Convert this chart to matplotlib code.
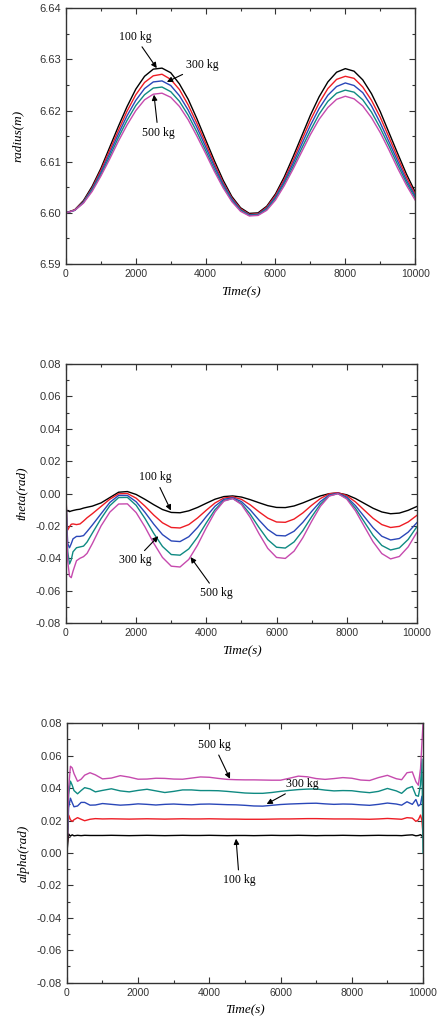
import numpy as np
import matplotlib
matplotlib.use('Agg')
from matplotlib import pyplot as plt
from matplotlib.ticker import MultipleLocator, FormatStrFormatter

plt.rcParams['font.family'] = ['Liberation Sans', 'DejaVu Sans']
plt.rcParams['axes.unicode_minus'] = False

# CONSTANTS
masses = ['100 kg', '200 kg', '300 kg', '400 kg', '500 kg']
colors = ['#000000', '#ee1c24', '#2a47b8', '#0f8a82', '#c64aae']

# radius (m), sampled every 250 s
t_radius = np.arange(0, 10001, 250)
radius_100 = [6.6000, 6.6006, 6.6024, 6.6052, 6.6087, 6.6128, 6.6169, 6.6208, 6.6242, 6.6267,
              6.6281, 6.6283, 6.6274, 6.6252, 6.6222, 6.6184, 6.6143, 6.6102, 6.6064, 6.6032,
              6.6010, 6.5999, 6.6000, 6.6013, 6.6037, 6.6070, 6.6109, 6.6150, 6.6191, 6.6227,
              6.6256, 6.6275, 6.6282, 6.6277, 6.6260, 6.6233, 6.6198, 6.6157, 6.6116, 6.6076, 6.6041]
radius_200 = [6.6000, 6.6006, 6.6022, 6.6049, 6.6083, 6.6122, 6.6161, 6.6199, 6.6231, 6.6255,
              6.6268, 6.6271, 6.6261, 6.6241, 6.6211, 6.6175, 6.6136, 6.6096, 6.6059, 6.6029,
              6.6008, 6.5997, 6.5998, 6.6011, 6.6034, 6.6065, 6.6102, 6.6142, 6.6181, 6.6215,
              6.6243, 6.6261, 6.6267, 6.6263, 6.6246, 6.6220, 6.6187, 6.6148, 6.6108, 6.6070, 6.6036]
radius_300 = [6.6000, 6.6005, 6.6021, 6.6047, 6.6079, 6.6116, 6.6154, 6.6190, 6.6220, 6.6243,
              6.6256, 6.6258, 6.6249, 6.6229, 6.6201, 6.6167, 6.6129, 6.6091, 6.6056, 6.6027,
              6.6006, 6.5996, 6.5997, 6.6009, 6.6031, 6.6061, 6.6096, 6.6134, 6.6171, 6.6204,
              6.6230, 6.6247, 6.6254, 6.6249, 6.6235, 6.6209, 6.6176, 6.6139, 6.6101, 6.6064, 6.6033]
radius_400 = [6.6000, 6.6005, 6.6020, 6.6045, 6.6075, 6.6110, 6.6147, 6.6181, 6.6210, 6.6231,
              6.6244, 6.6246, 6.6237, 6.6218, 6.6191, 6.6158, 6.6122, 6.6085, 6.6052, 6.6024,
              6.6005, 6.5995, 6.5996, 6.6007, 6.6028, 6.6057, 6.6090, 6.6126, 6.6161, 6.6193,
              6.6218, 6.6234, 6.6240, 6.6236, 6.6221, 6.6197, 6.6166, 6.6131, 6.6094, 6.6059, 6.6029]
radius_500 = [6.6000, 6.6005, 6.6019, 6.6042, 6.6072, 6.6105, 6.6140, 6.6172, 6.6200, 6.6221,
              6.6232, 6.6234, 6.6226, 6.6208, 6.6182, 6.6150, 6.6116, 6.6081, 6.6049, 6.6022,
              6.6003, 6.5994, 6.5995, 6.6005, 6.6025, 6.6053, 6.6085, 6.6119, 6.6153, 6.6183,
              6.6206, 6.6222, 6.6228, 6.6223, 6.6209, 6.6186, 6.6157, 6.6123, 6.6087, 6.6054, 6.6025]

# theta (rad)
t_theta = [0, 25, 50, 100, 150, 200, 300, 400, 500, 600, 750] + list(range(1000, 10001, 250))
theta_100 = [-0.0100, -0.0110, -0.0105, -0.0112, -0.0108, -0.0105, -0.0100, -0.0097, -0.0090, -0.0085, -0.0078,
             -0.0058, -0.0025, 0.0008, 0.0012, -0.0006, -0.0036, -0.0069, -0.0099, -0.0117,
             -0.0119, -0.0107, -0.0086, -0.0060, -0.0035, -0.0019, -0.0015, -0.0022, -0.0038,
             -0.0057, -0.0075, -0.0086, -0.0087, -0.0077, -0.0058, -0.0036, -0.0015, -0.0001,
             0.0003, -0.0008, -0.0031, -0.0061, -0.0091, -0.0114, -0.0125, -0.0121, -0.0104, -0.0080]
theta_200 = [0.0000, -0.0180, -0.0225, -0.0205, -0.0190, -0.0188, -0.0192, -0.0188, -0.0170, -0.0150, -0.0125,
             -0.0080, -0.0035, -0.0002, 0.0000, -0.0029, -0.0078, -0.0133, -0.0181, -0.0210,
             -0.0213, -0.0192, -0.0151, -0.0103, -0.0058, -0.0028, -0.0021, -0.0036, -0.0070,
             -0.0113, -0.0152, -0.0176, -0.0178, -0.0158, -0.0120, -0.0073, -0.0031, -0.0002,
             0.0005, -0.0013, -0.0052, -0.0103, -0.0153, -0.0192, -0.0210, -0.0203, -0.0176, -0.0135]
theta_300 = [0.0000, -0.0200, -0.0310, -0.0335, -0.0310, -0.0280, -0.0265, -0.0265, -0.0260, -0.0235, -0.0195,
             -0.0125, -0.0055, -0.0012, -0.0012, -0.0051, -0.0116, -0.0189, -0.0254, -0.0293,
             -0.0297, -0.0267, -0.0210, -0.0142, -0.0078, -0.0036, -0.0026, -0.0050, -0.0101,
             -0.0164, -0.0222, -0.0259, -0.0262, -0.0233, -0.0178, -0.0111, -0.0050, -0.0009,
             0.0002, -0.0022, -0.0075, -0.0143, -0.0211, -0.0264, -0.0287, -0.0278, -0.0239, -0.0180]
theta_400 = [0.0000, -0.0220, -0.0360, -0.0435, -0.0410, -0.0360, -0.0335, -0.0330, -0.0325, -0.0300, -0.0245,
             -0.0155, -0.0075, -0.0025, -0.0024, -0.0073, -0.0154, -0.0246, -0.0327, -0.0377,
             -0.0381, -0.0342, -0.0269, -0.0181, -0.0099, -0.0044, -0.0031, -0.0062, -0.0128,
             -0.0210, -0.0285, -0.0332, -0.0337, -0.0299, -0.0229, -0.0144, -0.0066, -0.0014,
             -0.0001, -0.0029, -0.0092, -0.0175, -0.0258, -0.0321, -0.0349, -0.0336, -0.0284, -0.0205]
theta_500 = [0.0000, -0.0250, -0.0420, -0.0510, -0.0520, -0.0480, -0.0415, -0.0400, -0.0390, -0.0370, -0.0310,
             -0.0200, -0.0115, -0.0065, -0.0064, -0.0118, -0.0206, -0.0307, -0.0395, -0.0449,
             -0.0454, -0.0407, -0.0318, -0.0211, -0.0113, -0.0047, -0.0031, -0.0068, -0.0148,
             -0.0248, -0.0339, -0.0395, -0.0401, -0.0356, -0.0273, -0.0172, -0.0079, -0.0016,
             -0.0001, -0.0034, -0.0107, -0.0203, -0.0298, -0.0371, -0.0404, -0.0389, -0.0330, -0.0240]

# alpha (rad)
t_alpha = [0, 50, 100, 150, 200, 300, 400, 500, 650, 800, 1000] + list(range(1250, 9251, 250)) + \
    [9400, 9550, 9700, 9800, 9870, 9930, 9970, 10000]
alpha_100 = [0.0000, 0.0117, 0.0104, 0.0112, 0.0106, 0.0109, 0.0107, 0.0109, 0.0108, 0.0108, 0.0108,
             0.0109, 0.0108, 0.0107, 0.0108, 0.0109, 0.0108, 0.0107, 0.0108, 0.0109, 0.0108, 0.0108,
             0.0109, 0.0108, 0.0107, 0.0108, 0.0108, 0.0107, 0.0108, 0.0109, 0.0108, 0.0108, 0.0109,
             0.0108, 0.0107, 0.0108, 0.0108, 0.0109, 0.0108, 0.0107, 0.0108, 0.0109, 0.0108, 0.0108,
             0.0107, 0.0110, 0.0112, 0.0106, 0.0108, 0.0113, 0.0105, 0.0100]
alpha_200 = [0.0000, 0.0234, 0.0205, 0.0195, 0.0205, 0.0218, 0.0208, 0.0199, 0.0208, 0.0212, 0.0210,
             0.0211, 0.0210, 0.0209, 0.0210, 0.0211, 0.0210, 0.0209, 0.0210, 0.0211, 0.0210, 0.0210,
             0.0211, 0.0210, 0.0209, 0.0209, 0.0208, 0.0208, 0.0208, 0.0209, 0.0210, 0.0210, 0.0211,
             0.0212, 0.0212, 0.0211, 0.0210, 0.0210, 0.0210, 0.0209, 0.0208, 0.0210, 0.0213, 0.0210,
             0.0208, 0.0218, 0.0215, 0.0195, 0.0205, 0.0234, 0.0200, 0.0110]
alpha_300 = [0.0000, 0.0280, 0.0338, 0.0310, 0.0285, 0.0290, 0.0312, 0.0312, 0.0295, 0.0296, 0.0305,
             0.0300, 0.0295, 0.0298, 0.0303, 0.0300, 0.0296, 0.0300, 0.0302, 0.0299, 0.0297, 0.0301,
             0.0302, 0.0300, 0.0298, 0.0297, 0.0294, 0.0290, 0.0289, 0.0294, 0.0299, 0.0302, 0.0304,
             0.0306, 0.0307, 0.0303, 0.0300, 0.0302, 0.0301, 0.0297, 0.0294, 0.0300, 0.0308, 0.0302,
             0.0295, 0.0316, 0.0300, 0.0330, 0.0290, 0.0300, 0.0350, 0.0300]
alpha_400 = [0.0000, 0.0360, 0.0443, 0.0418, 0.0385, 0.0365, 0.0385, 0.0403, 0.0395, 0.0377, 0.0386,
             0.0396, 0.0383, 0.0377, 0.0386, 0.0393, 0.0383, 0.0373, 0.0380, 0.0389, 0.0389, 0.0385,
             0.0385, 0.0384, 0.0380, 0.0375, 0.0370, 0.0368, 0.0368, 0.0373, 0.0380, 0.0386, 0.0391,
             0.0394, 0.0395, 0.0388, 0.0383, 0.0385, 0.0384, 0.0377, 0.0372, 0.0380, 0.0398, 0.0383,
             0.0368, 0.0398, 0.0410, 0.0355, 0.0350, 0.0420, 0.0580, 0.0000]
alpha_500 = [0.0000, 0.0400, 0.0535, 0.0525, 0.0490, 0.0442, 0.0455, 0.0480, 0.0495, 0.0482, 0.0457,
             0.0462, 0.0477, 0.0468, 0.0455, 0.0456, 0.0461, 0.0460, 0.0456, 0.0455, 0.0462, 0.0469,
             0.0467, 0.0460, 0.0454, 0.0452, 0.0451, 0.0451, 0.0450, 0.0449, 0.0449, 0.0461, 0.0474,
             0.0470, 0.0459, 0.0454, 0.0459, 0.0465, 0.0461, 0.0450, 0.0447, 0.0465, 0.0479, 0.0458,
             0.0452, 0.0495, 0.0500, 0.0440, 0.0418, 0.0520, 0.0680, 0.0800]

label_font = dict(family='Liberation Serif', style='italic', size=9.5)
note_font = dict(family='Liberation Serif', size=8.5)


def style_axes(ax, ylim, ymajor, yminor, fmt):
    ax.set_xlim(0, 10000)
    ax.set_ylim(*ylim)
    ax.xaxis.set_major_locator(MultipleLocator(2000))
    ax.xaxis.set_minor_locator(MultipleLocator(1000))
    ax.yaxis.set_major_locator(MultipleLocator(ymajor))
    ax.yaxis.set_minor_locator(MultipleLocator(yminor))
    ax.yaxis.set_major_formatter(FormatStrFormatter(fmt))
    ax.tick_params(which='both', direction='in', top=True, right=True,
                   colors='#333333', width=0.8)
    ax.tick_params(axis='x', labelsize=7.5)
    ax.tick_params(axis='y', labelsize=8)
    ax.tick_params(which='major', length=4)
    ax.tick_params(which='minor', length=2)
    for s in ax.spines.values():
        s.set_color('#333333')
        s.set_linewidth(1.0)
    ax.set_xlabel('Time(s)', labelpad=5, **label_font)


def note(ax, text, tip, pos):
    ax.annotate(text, xy=tip, xytext=pos, ha='center', va='center',
                arrowprops=dict(arrowstyle='-|>', color='k', lw=0.8,
                                mutation_scale=8, shrinkA=1, shrinkB=0),
                **note_font)


fig = plt.figure(figsize=(4.37, 10.21), dpi=100)

# radius
ax1 = fig.add_axes([0.151, 0.7414, 0.799, 0.2505])
for vals, c in zip([radius_100, radius_200, radius_300, radius_400, radius_500], colors):
    ax1.plot(t_radius, vals, color=c, lw=1.0)
style_axes(ax1, (6.59, 6.64), 0.01, 0.005, '%.2f')
ax1.set_ylabel('radius(m)', labelpad=11, **label_font)
note(ax1, '100 kg', (2600, 6.6283), (1980, 6.6344))
note(ax1, '300 kg', (2890, 6.6256), (3900, 6.6289))
note(ax1, '500 kg', (2520, 6.6231), (2640, 6.6157))

# theta
ax2 = fig.add_axes([0.151, 0.3898, 0.803, 0.2537])
for vals, c in zip([theta_100, theta_200, theta_300, theta_400, theta_500], colors):
    ax2.plot(t_theta, vals, color=c, lw=1.0)
style_axes(ax2, (-0.08, 0.08), 0.02, 0.01, '%.2f')
ax2.set_ylabel('theta(rad)', labelpad=6, **label_font)
note(ax2, '100 kg', (2990, -0.0105), (2540, 0.0099))
note(ax2, '300 kg', (2630, -0.0264), (1970, -0.0413))
note(ax2, '500 kg', (3550, -0.0393), (4290, -0.0615))

# alpha
ax3 = fig.add_axes([0.153, 0.0375, 0.815, 0.2541])
for vals, c in zip([alpha_100, alpha_200, alpha_300, alpha_400, alpha_500], colors):
    ax3.plot(t_alpha, vals, color=c, lw=1.0)
style_axes(ax3, (-0.08, 0.08), 0.02, 0.01, '%.2f')
ax3.set_ylabel('alpha(rad)', labelpad=5, **label_font)
note(ax3, '500 kg', (4580, 0.0458), (4130, 0.0666))
note(ax3, '300 kg', (5610, 0.0302), (6620, 0.0423))
note(ax3, '100 kg', (4750, 0.0088), (4840, -0.0167))

plt.savefig('out.png', dpi=100)
